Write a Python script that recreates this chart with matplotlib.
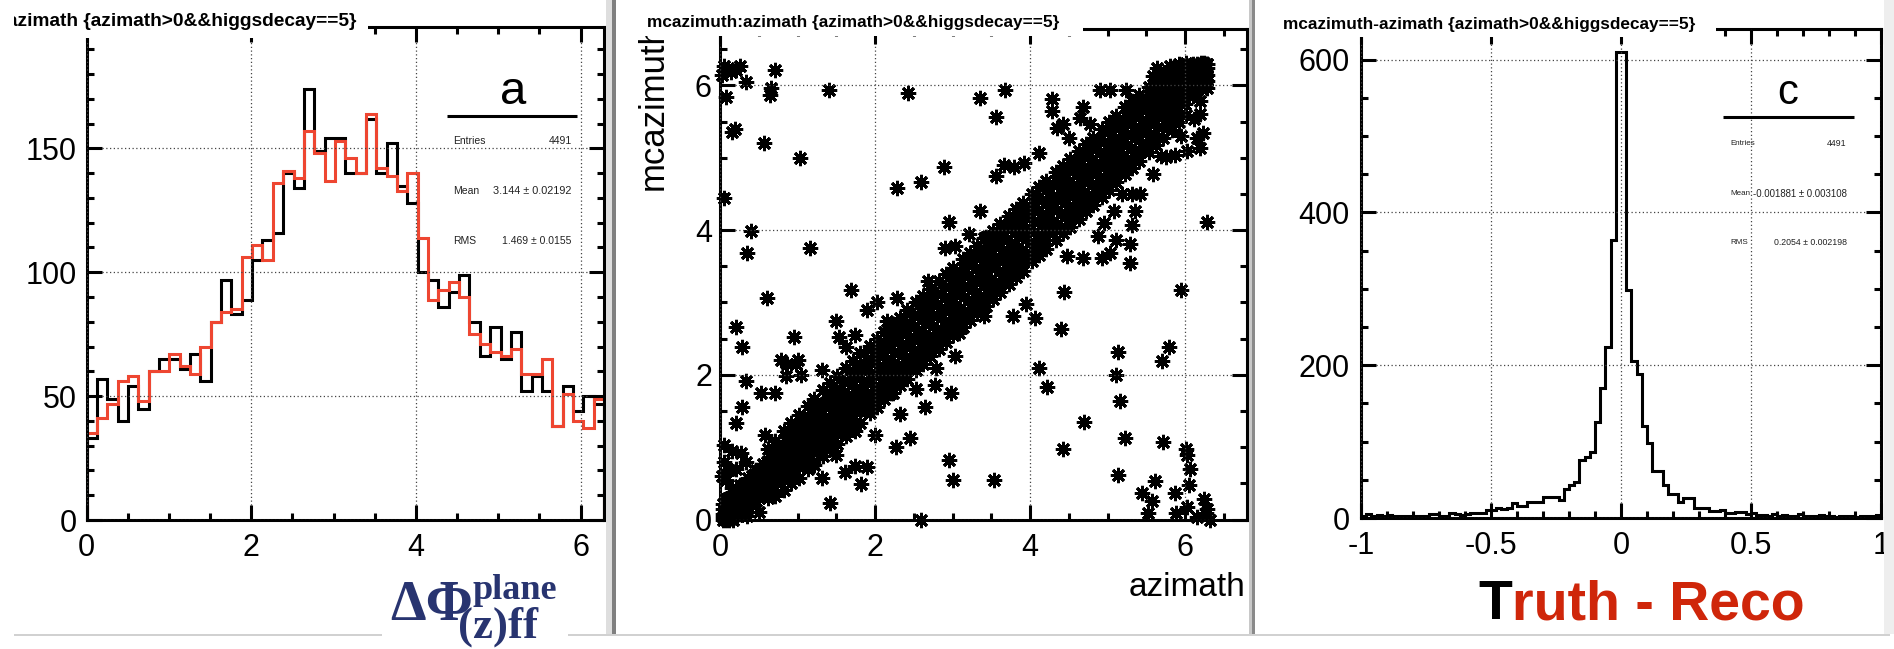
import matplotlib
matplotlib.use("Agg")
import matplotlib.pyplot as plt
from matplotlib.patches import Rectangle
from matplotlib.lines import Line2D
from matplotlib.ticker import MultipleLocator
import numpy as np

plt.rcParams['font.family'] = ['Liberation Sans', 'DejaVu Sans']
plt.rcParams['axes.unicode_minus'] = False

W, H = 1894, 649

# ---- azimath, 50 bins on [0, 2pi] ----
phi_edges = np.linspace(0, 2 * np.pi, 51)
azimath_black = [33, 57, 49, 40, 54, 45, 60, 65, 65, 61, 67, 56, 80, 97, 83, 89, 105, 113, 116, 140,
                 134, 174, 149, 154, 154, 140, 140, 162, 140, 152, 135, 128, 100, 97, 86, 92, 99, 80, 66, 78,
                 65, 76, 52, 58, 52, 38, 54, 44, 50, 47]
azimath_red = [35, 41, 47, 56, 58, 48, 60, 60, 67, 62, 59, 70, 80, 84, 85, 106, 111, 105, 136, 141,
               138, 157, 148, 137, 153, 146, 140, 164, 142, 139, 133, 140, 114, 89, 93, 96, 90, 75, 71, 68,
               66, 69, 59, 59, 65, 38, 51, 40, 37, 49]
stats_a = [("Entries", "4491"), ("Mean", "3.144 \u00b1 0.02192"), ("RMS", "1.469 \u00b1 0.0155")]

# ---- mcazimuth vs azimath ----
# core of the correlation band, column by column
band_x = [0.04, 0.12, 0.22, 0.31, 0.41, 0.50, 0.60, 0.69,
          0.79, 0.90, 1.00, 1.10, 1.20, 1.30, 1.40, 1.50,
          1.60, 1.70, 1.80, 1.90, 2.00, 2.10, 2.20, 2.30,
          2.40, 2.50, 2.60, 2.70, 2.80, 2.90, 3.00, 3.10,
          3.20, 3.30, 3.40, 3.50, 3.60, 3.70, 3.80, 3.90,
          4.00, 4.10, 4.20, 4.30, 4.40, 4.50, 4.60, 4.70,
          4.80, 4.90, 5.00, 5.10, 5.20, 5.30, 5.40, 5.50,
          5.60, 5.70, 5.80, 5.90, 6.00, 6.10, 6.20, 6.28]
band_lo2 = [0.00, 0.00, 0.05, 0.12, 0.22, 0.30, 0.40, 0.48,
            0.58, 0.66, 0.74, 0.82, 0.93, 1.02, 1.11, 1.20,
            1.31, 1.39, 1.50, 1.59, 1.68, 1.79, 1.88, 1.98,
            2.08, 2.18, 2.27, 2.38, 2.48, 2.57, 2.67, 2.77,
            2.86, 2.97, 3.06, 3.17, 3.26, 3.36, 3.46, 3.56,
            3.66, 3.76, 3.86, 3.96, 4.05, 4.16, 4.26, 4.36,
            4.46, 4.56, 4.66, 4.77, 4.87, 4.98, 5.09, 5.20,
            5.33, 5.43, 5.54, 5.64, 5.75, 5.86, 5.97, 6.06]
band_lo1 = [0.03, 0.06, 0.14, 0.21, 0.31, 0.40, 0.49, 0.58,
            0.69, 0.78, 0.87, 0.96, 1.06, 1.16, 1.25, 1.36,
            1.45, 1.55, 1.64, 1.75, 1.84, 1.95, 2.04, 2.14,
            2.24, 2.34, 2.44, 2.54, 2.63, 2.74, 2.84, 2.93,
            3.04, 3.13, 3.24, 3.33, 3.43, 3.54, 3.63, 3.73,
            3.83, 3.93, 4.03, 4.13, 4.23, 4.33, 4.43, 4.53,
            4.63, 4.73, 4.83, 4.94, 5.03, 5.14, 5.24, 5.35,
            5.46, 5.56, 5.67, 5.77, 5.87, 5.98, 6.08, 6.15]
band_mid = [0.08, 0.13, 0.22, 0.30, 0.42, 0.51, 0.59, 0.70,
            0.78, 0.91, 1.00, 1.11, 1.20, 1.31, 1.40, 1.50,
            1.61, 1.70, 1.80, 1.91, 2.00, 2.10, 2.21, 2.30,
            2.40, 2.51, 2.60, 2.70, 2.81, 2.90, 3.00, 3.10,
            3.21, 3.30, 3.40, 3.51, 3.60, 3.70, 3.81, 3.90,
            4.00, 4.11, 4.20, 4.30, 4.41, 4.50, 4.60, 4.71,
            4.80, 4.90, 5.01, 5.10, 5.20, 5.31, 5.40, 5.50,
            5.60, 5.70, 5.81, 5.90, 6.00, 6.10, 6.19, 6.24]
band_hi1 = [0.15, 0.21, 0.31, 0.40, 0.50, 0.60, 0.70, 0.79,
            0.90, 1.02, 1.12, 1.24, 1.33, 1.44, 1.55, 1.64,
            1.75, 1.86, 1.95, 2.06, 2.16, 2.26, 2.36, 2.46,
            2.56, 2.66, 2.77, 2.86, 2.96, 3.07, 3.17, 3.27,
            3.37, 3.47, 3.57, 3.67, 3.77, 3.87, 3.97, 4.07,
            4.17, 4.27, 4.37, 4.47, 4.58, 4.67, 4.78, 4.87,
            4.97, 5.08, 5.17, 5.27, 5.37, 5.47, 5.57, 5.66,
            5.74, 5.84, 5.94, 6.03, 6.12, 6.21, 6.27, 6.29]
band_hi2 = [0.22, 0.30, 0.40, 0.49, 0.60, 0.69, 0.80, 0.90,
            1.00, 1.13, 1.25, 1.37, 1.47, 1.58, 1.69, 1.80,
            1.90, 2.01, 2.11, 2.21, 2.32, 2.41, 2.52, 2.63,
            2.72, 2.82, 2.92, 3.03, 3.12, 3.22, 3.33, 3.43,
            3.54, 3.63, 3.74, 3.83, 3.94, 4.04, 4.14, 4.24,
            4.34, 4.44, 4.55, 4.64, 4.74, 4.85, 4.94, 5.05,
            5.14, 5.25, 5.35, 5.44, 5.54, 5.63, 5.72, 5.81,
            5.88, 5.97, 6.07, 6.16, 6.24, 6.29, 6.31, 6.30]
# second set of columns, between the first ones
fill_x = [0.08, 0.17, 0.26, 0.36, 0.46, 0.55, 0.65, 0.74,
          0.85, 0.95, 1.05, 1.15, 1.25, 1.35, 1.45, 1.55,
          1.65, 1.75, 1.85, 1.95, 2.05, 2.15, 2.25, 2.35,
          2.45, 2.55, 2.65, 2.75, 2.85, 2.95, 3.05, 3.15,
          3.25, 3.35, 3.45, 3.55, 3.65, 3.75, 3.85, 3.95,
          4.05, 4.15, 4.25, 4.35, 4.45, 4.55, 4.65, 4.75,
          4.85, 4.95, 5.05, 5.15, 5.25, 5.35, 5.45, 5.55,
          5.65, 5.75, 5.85, 5.95, 6.05, 6.15, 6.24]
fill_q1 = [0.00, 0.00, 0.07, 0.16, 0.25, 0.35, 0.44, 0.53,
           0.62, 0.72, 0.81, 0.91, 1.00, 1.10, 1.19, 1.29,
           1.38, 1.49, 1.57, 1.68, 1.77, 1.88, 1.97, 2.08,
           2.17, 2.28, 2.37, 2.48, 2.58, 2.67, 2.78, 2.87,
           2.98, 3.07, 3.18, 3.27, 3.38, 3.47, 3.58, 3.67,
           3.78, 3.87, 3.98, 4.07, 4.18, 4.27, 4.38, 4.47,
           4.58, 4.67, 4.78, 4.87, 4.98, 5.08, 5.20, 5.30,
           5.42, 5.52, 5.64, 5.74, 5.85, 5.94, 6.05]
fill_q2 = [0.01, 0.09, 0.19, 0.29, 0.39, 0.48, 0.58, 0.67,
           0.78, 0.88, 0.98, 1.08, 1.18, 1.28, 1.38, 1.48,
           1.57, 1.68, 1.78, 1.88, 1.98, 2.08, 2.17, 2.28,
           2.38, 2.48, 2.57, 2.68, 2.78, 2.88, 2.97, 3.08,
           3.18, 3.28, 3.37, 3.48, 3.58, 3.68, 3.77, 3.88,
           3.98, 4.08, 4.17, 4.28, 4.38, 4.48, 4.57, 4.68,
           4.78, 4.88, 4.97, 5.08, 5.18, 5.28, 5.37, 5.48,
           5.58, 5.68, 5.78, 5.88, 5.98, 6.08, 6.17]
fill_q3 = [0.15, 0.24, 0.33, 0.43, 0.53, 0.62, 0.72, 0.81,
           0.92, 1.02, 1.12, 1.22, 1.32, 1.42, 1.52, 1.62,
           1.72, 1.82, 1.92, 2.02, 2.12, 2.22, 2.32, 2.42,
           2.52, 2.62, 2.72, 2.82, 2.92, 3.02, 3.12, 3.22,
           3.32, 3.42, 3.52, 3.62, 3.72, 3.82, 3.92, 4.02,
           4.12, 4.22, 4.32, 4.42, 4.52, 4.62, 4.72, 4.82,
           4.92, 5.02, 5.12, 5.22, 5.32, 5.42, 5.52, 5.62,
           5.72, 5.82, 5.92, 6.02, 6.12, 6.21, 6.28]
fill_q4 = [0.29, 0.38, 0.48, 0.58, 0.68, 0.77, 0.87, 0.97,
           1.08, 1.19, 1.29, 1.40, 1.50, 1.61, 1.71, 1.81,
           1.92, 2.02, 2.12, 2.22, 2.32, 2.42, 2.52, 2.62,
           2.72, 2.82, 2.92, 3.02, 3.12, 3.22, 3.32, 3.42,
           3.52, 3.62, 3.72, 3.82, 3.92, 4.02, 4.12, 4.22,
           4.32, 4.42, 4.52, 4.62, 4.72, 4.82, 4.92, 5.02,
           5.12, 5.22, 5.32, 5.42, 5.52, 5.62, 5.71, 5.80,
           5.89, 5.98, 6.07, 6.16, 6.24, 6.29, 6.31]
# ragged outer edges of the band
edge_x = [0.62, 0.71, 0.83, 0.92, 1.02, 1.13, 1.21, 1.33,
          1.42, 1.51, 1.63, 1.72, 1.81, 1.93, 2.02, 2.11,
          2.23, 2.32, 2.41, 2.53, 2.62, 2.71, 2.83, 2.92,
          3.01, 3.13, 3.22, 3.31, 3.43, 3.52, 3.61, 3.73,
          3.82, 3.91, 4.03, 4.12, 4.21, 4.33, 4.42, 4.51,
          4.63, 4.72, 4.81, 4.93, 5.02, 5.11, 5.23, 5.32,
          5.41, 5.53, 5.62, 5.71, 5.83, 5.92, 6.01]
edge_lo = [0.30, 0.33, 0.41, 0.50, 0.58, 0.70, 0.76, 0.88,
           0.97, 1.05, 1.16, 1.27, 1.33, 1.47, 1.55, 1.66,
           1.75, 1.86, 1.94, 2.07, 2.15, 2.26, 2.35, 2.46,
           2.55, 2.66, 2.76, 2.85, 2.95, 3.05, 3.14, 3.26,
           3.35, 3.44, 3.57, 3.65, 3.74, 3.86, 3.96, 4.04,
           4.16, 4.27, 4.35, 4.46, 4.56, 4.66, 4.77, 4.86,
           4.96, 5.08, 5.18, 5.27, 5.39, 5.49, 5.59]
edge_hi = [0.98, 1.08, 1.22, 1.34, 1.45, 1.57, 1.67, 1.79,
           1.88, 1.98, 2.10, 2.19, 2.30, 2.40, 2.49, 2.59,
           2.70, 2.79, 2.89, 3.00, 3.09, 3.18, 3.30, 3.39,
           3.48, 3.60, 3.69, 3.78, 3.90, 3.99, 4.08, 4.20,
           4.29, 4.38, 4.50, 4.59, 4.68, 4.80, 4.89, 4.98,
           5.10, 5.19, 5.28, 5.40, 5.49, 5.58, 5.70, 5.78,
           5.87, 5.98, 6.06, 6.14, 6.24, 6.29, 6.31]
# entries away from the band
stray_x = [0.05, 0.10, 0.20, 0.14, 0.26, 0.03, 0.34, 0.66, 0.71, 0.64, 0.08, 0.15, 0.19, 0.57, 1.03,
           1.41, 2.42, 3.36, 3.68, 3.56, 2.89, 2.29, 2.59, 2.95, 0.05, 0.40, 0.35, 1.16, 0.61, 1.69,
           1.50, 0.20, 0.29, 0.96, 0.34, 0.28, 0.21, 0.58, 1.42, 2.96, 3.01, 3.53, 2.59, 2.27, 2.45,
           2.32, 2.64, 2.98, 3.40, 3.78, 4.06, 3.95, 4.44, 4.40, 4.11, 4.22, 4.70, 4.43, 5.14, 5.11,
           5.16, 5.23, 5.14, 5.79, 5.70, 5.95, 6.29, 5.72, 6.01, 6.02, 6.06, 6.05, 5.61, 5.45, 5.57,
           5.52, 5.87, 5.89, 6.03, 6.24, 6.27, 6.16, 6.32, 6.29,
           5.35, 5.32, 6.23, 6.16, 6.03, 5.87, 5.69, 6.19, 6.29, 6.19,
           0.79, 0.86, 0.53, 0.71, 0.98, 1.05,
           0.05, 0.16, 0.27, 0.34, 0.11, 0.08, 0.16, 0.02, 0.05, 0.20, 0.35, 0.50, 0.10,
           1.74, 1.82, 1.90, 1.61, 1.32, 1.50, 1.74, 2.00, 1.95, 2.21, 2.53, 2.77, 2.79, 3.03, 3.08,
           1.20, 1.45, 0.95,
           0.85, 1.00, 1.32, 1.53, 1.74, 1.63, 1.90, 2.03, 2.16, 2.29, 2.69, 2.72, 2.90, 3.03, 3.21,
           3.40, 3.35, 3.56, 3.66, 3.79, 3.92, 4.11, 4.29, 4.29, 4.35, 4.42, 4.50, 4.69, 4.77, 4.90,
           5.03, 5.24, 4.64, 5.64, 5.59, 5.80,
           4.48, 4.69, 4.93, 5.03, 5.11, 5.29, 5.32, 5.29, 4.88, 4.96, 5.08, 5.19, 5.42, 5.59, 5.75,
           5.95, 6.11, 6.19]
stray_y = [6.27, 6.24, 6.22, 6.19, 6.27, 6.15, 6.05, 5.97, 6.21, 5.87, 5.84, 5.35, 5.40, 5.21, 4.99,
           5.93, 5.90, 5.83, 5.94, 5.57, 4.87, 4.58, 4.66, 4.11, 4.45, 3.99, 3.69, 3.75, 3.06, 3.17,
           2.75, 2.66, 2.38, 2.52, 1.92, 1.55, 1.33, 1.17, 0.23, 0.82, 0.54, 0.54, 0.00, 1.00, 1.13,
           1.46, 1.55, 1.75, 2.81, 2.81, 2.79, 2.98, 3.15, 2.63, 2.10, 1.83, 1.35, 0.97, 2.32, 2.00,
           1.64, 1.13, 0.61, 2.38, 2.19, 3.17, 4.11, 1.07, 0.97, 0.89, 0.70, 0.48, 0.53, 0.37, 0.26,
           0.09, 0.37, 0.09, 0.17, 0.29, 0.09, 0.03, 0.00, 0.15,
           4.27, 4.50, 5.34, 5.27, 5.10, 5.04, 5.02, 5.61, 5.96, 5.78,
           2.20, 2.15, 1.75, 1.75, 2.15, 2.00,
           1.03, 0.95, 0.92, 0.80, 0.69, 0.54, 0.43, 0.60, 0.80, 0.70, 0.05, 0.10, 0.30,
           0.74, 0.49, 0.72, 0.66, 0.57, 0.89, 1.23, 1.17, 1.69, 1.75, 1.80, 1.86, 2.09, 2.26, 2.58,
           0.80, 1.00, 0.60,
           1.98, 2.20, 2.06, 2.52, 2.55, 2.38, 2.89, 3.00, 2.75, 3.06, 3.29, 3.18, 3.75, 3.78, 3.95,
           3.89, 4.27, 4.75, 4.90, 4.87, 4.93, 5.07, 5.81, 5.64, 5.41, 5.47, 5.27, 5.70, 5.47, 5.93,
           5.93, 5.94, 5.55, 6.24, 6.13, 6.27,
           3.64, 3.61, 3.61, 3.69, 3.87, 3.55, 4.07, 3.81, 3.92, 4.10, 4.27, 4.50, 4.50, 4.78, 5.01,
           5.30, 5.53, 5.13]

# ---- mcazimuth - azimath, 100 bins on [-1, 1] ----
diff_edges = np.linspace(-1, 1, 101)
diff_counts = [3, 5, 3, 4, 2, 4, 3, 2, 2, 2, 3, 2, 3, 5, 5, 3, 2, 7, 5, 4,
               5, 6, 6, 7, 11, 10, 13, 12, 13, 20, 16, 16, 21, 21, 21, 28, 28, 28, 24, 38,
               43, 47, 76, 80, 87, 126, 170, 224, 364, 610,
               610, 299, 205, 189, 120, 98, 61, 61, 43, 32, 32, 21, 26, 26, 13, 13, 13, 9, 9, 11,
               6, 6, 8, 8, 5, 7, 4, 4, 3, 5, 3, 4, 2, 3, 5, 3, 2, 2, 4, 3,
               2, 1, 2, 3, 2, 1, 2, 2, 3, 4]
stats_c = [("Entries", "4491"), ("Mean", "-0.001881 \u00b1 0.003108"), ("RMS", "0.2054 \u00b1 0.002198")]

fig = plt.figure(figsize=(W / 100, H / 100), dpi=100)
fig.patch.set_facecolor("white")
renderer = fig.canvas.get_renderer()


def axes_px(left, top, right, bottom):
    return fig.add_axes([left / W, 1 - bottom / H, (right - left) / W, (bottom - top) / H])


def text_px(x, y, s, **kw):
    return fig.text(x / W, 1 - y / H, s, **kw)


def fit(t, width):
    w = t.get_window_extent(renderer).width
    t.set_fontsize(t.get_fontsize() * width / w)


def rect_px(x0, y0, x1, y1, color, z=5):
    fig.add_artist(Rectangle((x0 / W, 1 - y1 / H), (x1 - x0) / W, (y1 - y0) / H,
                             transform=fig.transFigure, fc=color, ec="none", zorder=z))


def line_px(x0, y0, x1, y1, color, lw, z=6):
    fig.add_artist(Line2D([x0 / W, x1 / W], [1 - y0 / H, 1 - y1 / H], transform=fig.transFigure,
                          color=color, lw=lw, zorder=z, solid_capstyle="butt"))


def root_frame(ax, xpad, ypad):
    for sp in ax.spines.values():
        sp.set_linewidth(2.2)
    ax.tick_params(which="both", direction="in", top=True, right=True, width=2.2,
                   labelsize=22, colors="black")
    ax.tick_params(axis="x", pad=xpad)
    ax.tick_params(axis="y", pad=ypad)
    ax.tick_params(which="major", length=10.5)
    ax.tick_params(which="minor", length=5)
    ax.grid(True, which="major", ls=(0, (1, 2)), lw=0.9, color="#444444")
    ax.set_axisbelow(False)


# left panel: azimath
ax1 = axes_px(86.5, 27, 604, 520)
ax1.stairs(azimath_black, phi_edges, color="black", lw=2.2, baseline=0)
ax1.stairs(azimath_red, phi_edges, color="#ee4631", lw=2.2, baseline=0)
ax1.set_xlim(0, 2 * np.pi)
ax1.set_ylim(0, 199)
ax1.set_xticks([0, 2, 4, 6])
ax1.set_yticks([0, 50, 100, 150])
ax1.xaxis.set_minor_locator(MultipleLocator(0.5))
ax1.yaxis.set_minor_locator(MultipleLocator(10))
root_frame(ax1, 9.4, 6.8)

# middle panel: scatter
ax2 = axes_px(720, 29, 1247, 519.5)
star = dict(ls="none", marker=(8, 2, 0), ms=11, mew=2.1, color="black", clip_on=False)
band_y = band_lo2 + band_lo1 + band_mid + band_hi1 + band_hi2
fill_y = fill_q1 + fill_q2 + fill_q3 + fill_q4
ax2.plot(band_x * 5, band_y, **star)
ax2.plot(fill_x * 4, fill_y, **star)
ax2.plot(edge_x * 2, edge_lo + edge_hi, **star)
ax2.plot(stray_x, stray_y, **star)
ax2.set_xlim(0, 6.8)
ax2.set_ylim(0, 6.78)
ax2.set_xticks([0, 2, 4, 6])
ax2.set_yticks([0, 2, 4, 6])
ax2.xaxis.set_minor_locator(MultipleLocator(0.5))
ax2.yaxis.set_minor_locator(MultipleLocator(0.5))
root_frame(ax2, 9.4, 5.8)

# right panel: difference
ax3 = axes_px(1361, 29, 1881, 518)
ax3.stairs(diff_counts, diff_edges, color="black", lw=2.2, baseline=0)
ax3.set_xlim(-1, 1)
ax3.set_ylim(0, 640)
ax3.set_xticks([-1, -0.5, 0, 0.5, 1], ["-1", "-0.5", "0", "0.5", "1"])
ax3.set_yticks([0, 200, 400, 600])
ax3.xaxis.set_minor_locator(MultipleLocator(0.1))
ax3.yaxis.set_minor_locator(MultipleLocator(50))
root_frame(ax3, 9.4, 8)

# title boxes
rect_px(0, 0, 368, 38, "white")
rect_px(638, 0, 1083, 36, "white")
rect_px(1273, 0, 1716, 37, "white")

t = text_px(356, 21.5, "zimath {azimath>0&&higgsdecay==5}", fontsize=11, fontweight="bold",
            ha="right", va="center", zorder=6)
fit(t, 341)
t.set_text("azimath {azimath>0&&higgsdecay==5}")
rect_px(0, 0, 13.5, 38, "white", z=7)
t = text_px(647, 22, "mcazimuth:azimath {azimath>0&&higgsdecay==5}", fontsize=11,
            fontweight="bold", ha="left", va="center", zorder=6)
fit(t, 414)
t = text_px(1283, 25, "mcazimuth-azimath {azimath>0&&higgsdecay==5}", fontsize=11,
            fontweight="bold", ha="left", va="center", zorder=6)
fit(t, 413)

# axis titles of the scatter
text_px(653, 190, "mcazimuth", fontsize=25, rotation=90, ha="center", va="bottom", zorder=1)
t = text_px(1245, 588, "azimath", fontsize=24, ha="right", va="center")
fit(t, 117)

# stat boxes
text_px(513, 103.5, "a", fontsize=34, ha="center", va="baseline", zorder=6)
line_px(447, 116, 577, 116, "black", 2.2)
for (name, val), y in zip(stats_a, [141, 191, 241.5]):
    text_px(453, y, name, fontsize=7.5, color="#222222", ha="left", va="center", zorder=6)
    tv = text_px(571.7, y, val, fontsize=7.5, color="#222222", ha="right", va="center", zorder=6)
    if name == "Mean":
        fit(tv, 79)
text_px(1788, 104.5, "c", fontsize=30, ha="center", va="baseline", zorder=6)
line_px(1723, 117.3, 1854, 117.3, "black", 2.2)
for (name, val), y in zip(stats_c, [143.3, 194, 242.7]):
    text_px(1730.7, y, name, fontsize=5.8, color="#222222", ha="left", va="center", zorder=6)
    tv = text_px(1846.7, y, val, fontsize=6.3, color="#222222", ha="right", va="center", zorder=6)
    if name == "Mean":
        fit(tv, 95)

# panel separators and page frame
rect_px(606, 0, 612, 634, "#dedede")
rect_px(612, 0, 615.5, 634, "#808080")
rect_px(1249, 0, 1252, 634, "#c8c8c8")
rect_px(1252, 0, 1255, 634, "#8a8a8a")
rect_px(1884, 0, 1894, 634, "#eeeeee")
line_px(14, 634.5, 382, 634.5, "#c8c8c8", 1.2, z=4)
line_px(568, 634.5, 1890, 634.5, "#c8c8c8", 1.2, z=4)

# bottom annotations
navy = "#283470"
serif = dict(family="Liberation Serif", fontweight="bold", color=navy, ha="left", va="baseline")
t = text_px(390, 620, "\u0394\u03a6", fontsize=30, **serif)
fit(t, 83)
t = text_px(472, 599, "plane", fontsize=24, **serif)
fit(t, 85)
t = text_px(458, 638, "(z)ff", fontsize=28, **serif)
fit(t, 80)

tt = text_px(1478, 619, "T", fontsize=40, fontweight="bold", color="black", ha="left", va="baseline")
bb = tt.get_window_extent(renderer)
text_px(bb.x1, 619, "ruth - Reco", fontsize=40, fontweight="bold", color="#cf260a",
        ha="left", va="baseline")

fig.savefig("out.png", dpi=100, facecolor="white")
